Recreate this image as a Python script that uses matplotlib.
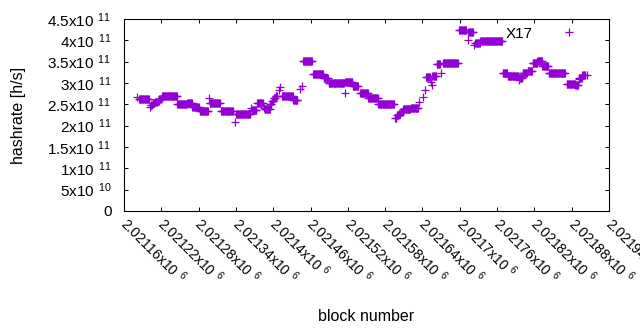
import numpy as np
import matplotlib
matplotlib.use('Agg')
import matplotlib.pyplot as plt
import matplotlib.transforms as mtransforms
from matplotlib.ticker import FuncFormatter, MultipleLocator

plt.rcParams['font.family'] = 'Liberation Sans'
plt.rcParams['mathtext.fontset'] = 'custom'
plt.rcParams['mathtext.rm'] = 'Liberation Sans'
plt.rcParams['mathtext.default'] = 'regular'

# runs of consecutive blocks sharing one hashrate value (units of 1e11 h/s)
run_start = [2021181, 2021184, 2021202, 2021203, 2021206, 2021210, 2021214, 2021217,
             2021221, 2021246, 2021262, 2021270, 2021282, 2021297, 2021298, 2021316,
             2021338, 2021340, 2021364, 2021366, 2021374, 2021385, 2021386, 2021395,
             2021398, 2021401, 2021404, 2021409, 2021411, 2021414, 2021432, 2021443,
             2021446, 2021448, 2021464, 2021481, 2021489, 2021515, 2021516, 2021528,
             2021540, 2021553, 2021569, 2021596, 2021599, 2021602, 2021605, 2021609,
             2021621, 2021634, 2021641, 2021644, 2021646, 2021653, 2021655, 2021656,
             2021663, 2021670, 2021673, 2021699, 2021713, 2021714, 2021723, 2021725,
             2021733, 2021769, 2021777, 2021795, 2021796, 2021801, 2021809, 2021817,
             2021818, 2021825, 2021833, 2021843, 2021872, 2021886, 2021891, 2021892,
             2021897, 2021904]
run_end = [2021181, 2021200, 2021202, 2021205, 2021209, 2021213, 2021216, 2021220,
           2021245, 2021261, 2021269, 2021280, 2021295, 2021297, 2021314, 2021335,
           2021338, 2021363, 2021364, 2021373, 2021383, 2021385, 2021394, 2021397,
           2021400, 2021403, 2021406, 2021409, 2021411, 2021431, 2021439, 2021443,
           2021446, 2021462, 2021480, 2021488, 2021514, 2021515, 2021527, 2021536,
           2021552, 2021568, 2021594, 2021598, 2021601, 2021604, 2021608, 2021620,
           2021633, 2021634, 2021641, 2021644, 2021652, 2021653, 2021655, 2021662,
           2021668, 2021670, 2021697, 2021710, 2021713, 2021721, 2021723, 2021732,
           2021768, 2021776, 2021794, 2021795, 2021800, 2021808, 2021816, 2021817,
           2021824, 2021832, 2021842, 2021869, 2021885, 2021890, 2021891, 2021896,
           2021901, 2021904]
run_rate = [2.67, 2.63, 2.44, 2.48, 2.53, 2.55, 2.58, 2.62,
            2.70, 2.51, 2.53, 2.44, 2.34, 2.65, 2.53, 2.34,
            2.09, 2.27, 2.41, 2.36, 2.53, 2.41, 2.39, 2.51,
            2.58, 2.65, 2.70, 2.84, 2.91, 2.70, 2.60, 2.86,
            2.93, 3.52, 3.21, 3.12, 3.00, 2.77, 3.02, 2.93,
            2.77, 2.65, 2.51, 2.18, 2.24, 2.28, 2.33, 2.39,
            2.42, 2.55, 2.67, 2.84, 3.14, 3.02, 2.95, 3.16,
            3.45, 3.23, 3.47, 4.24, 4.01, 4.20, 3.89, 3.94,
            3.98, 3.23, 3.16, 3.07, 3.12, 3.23, 3.28, 3.46,
            3.47, 3.52, 3.40, 3.23, 2.98, 2.95, 3.09, 3.12,
            3.19, 3.19]

blocks = []
rates = []
for s, e, r in zip(run_start, run_end, run_rate):
    for b in range(s, e + 1):
        blocks.append(b)
        rates.append(r * 1e11)


def sci(v, pos):
    if v == 0:
        return '0'
    e = int(np.floor(np.log10(abs(v)) + 1e-9))
    m = v / 10**e
    return f'{m:g}x10$\\ ^{{{e}}}$'


fig = plt.figure(figsize=(6.4, 3.3), dpi=100)
ax = fig.add_axes([124/640, 1 - 211/330, 485/640, 192/330])
ax.plot(blocks, rates, '+', color='#9400d3', ms=5.5, mew=0.9, linestyle='none', label='X17')

ax.set_xlim(2021160, 2021940)
ax.set_ylim(0, 4.5e11)
ax.xaxis.set_major_locator(MultipleLocator(60))
ax.yaxis.set_major_locator(MultipleLocator(5e10))
ax.xaxis.set_major_formatter(FuncFormatter(sci))
ax.yaxis.set_major_formatter(FuncFormatter(sci))
ax.tick_params(direction='in', length=3.2, width=0.7, top=True, right=True,
               labelsize=11, colors='black')
ax.tick_params(axis='y', pad=9)
ax.tick_params(axis='x', pad=3, labelsize=10)

# nudge rotated block labels so they start right at the tick
shift = mtransforms.ScaledTranslation(6/100, 1/100, fig.dpi_scale_trans)
for t in ax.xaxis.get_major_ticks():
    lab = t.label1
    lab.set_rotation(-45)
    lab.set_ha('left')
    lab.set_va('top')
    lab.set_rotation_mode('anchor')
    lab.set_transform(lab.get_transform() + shift)
for sp in ax.spines.values():
    sp.set_linewidth(0.8)

ax.set_ylabel('hashrate [h/s]', fontsize=11.5, labelpad=15)
ax.set_xlabel('block number', fontsize=11.5, labelpad=16)

ax.legend(loc='upper right', frameon=False, markerfirst=False, fontsize=11,
          handlelength=4.2, handletextpad=0.3, borderaxespad=0.1, numpoints=1)

fig.savefig('out.png', dpi=100)
